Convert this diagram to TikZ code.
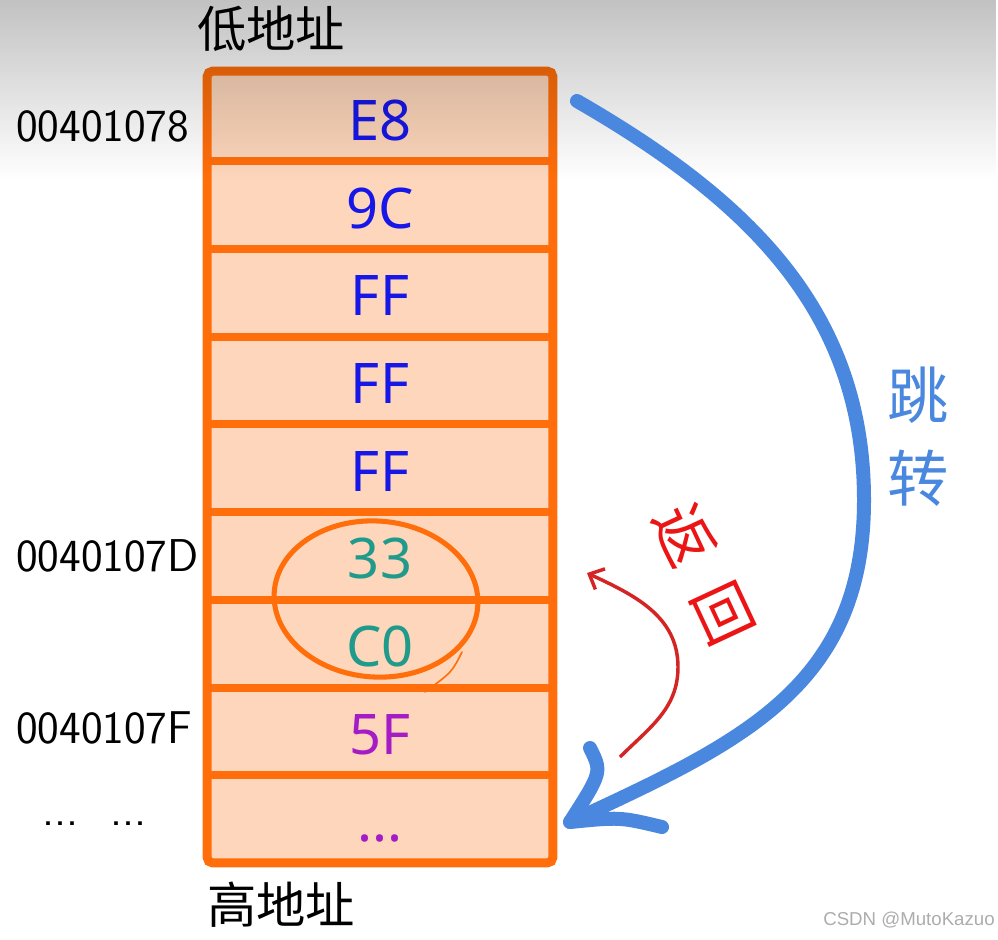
\documentclass[tikz,border=0pt]{standalone}
\usepackage{fontspec}
\newfontfamily\cjk{Noto Sans CJK SC}
\newfontfamily\hexf{Noto Sans}
\newfontfamily\wmf{Liberation Sans}
\usetikzlibrary{arrows.meta,fadings}
\definecolor{orng}{HTML}{FF6E0A}
\definecolor{peach}{HTML}{FDD6BB}
\definecolor{peachl}{HTML}{FFE2CE}
\definecolor{hexblue}{HTML}{1717E8}
\definecolor{hexteal}{HTML}{1F9A8B}
\definecolor{hexpurp}{HTML}{A51CC6}
\definecolor{jblue}{HTML}{4A87DF}
\definecolor{rred}{HTML}{D42424}
\definecolor{rtext}{HTML}{EC1515}
\tikzset{
  cell/.style={rectangle, fill=peach, draw=peachl, line width=2pt,
    minimum width=257.25pt, minimum height=65.75pt, inner sep=0pt,
    font=\hexf\fontsize{42}{42}\selectfont, text height=36pt, text depth=0pt},
  sep/.style={orng, line width=6pt},
  frame/.style={orng, line width=6.75pt, rounded corners=4pt},
  addr/.style={anchor=west, inner sep=0pt, font=\sffamily\fontsize{34.5}{34.5}\selectfont},
  cjklab/.style={inner sep=0pt, font=\cjk\fontsize{37}{37}\selectfont},
  jumplab/.style={inner sep=0pt, text=jblue, font=\cjk\fontsize{46}{46}\selectfont},
  retlab/.style={inner sep=0pt, text=rtext, rotate=-65, font=\cjk\fontsize{45}{45}\selectfont},
  jumparrow/.style={jblue, line width=10.5pt, line cap=round, line join=round},
  retarrow/.style={rred, line width=2.6pt, -{Straight Barb[length=9pt,width=17pt,line width=2.6pt]}},
}
\begin{document}
\begin{tikzpicture}[x=0.75pt,y=0.75pt]
\useasboundingbox (0,0) rectangle (998,-939);
\fill[white] (0,0) rectangle (998,-939);

% cells
\node[cell, text=hexblue] (c1) at (380,-116.3) {E8};
\node[cell, text=hexblue] (c2) at (380,-204.0) {9C};
\node[cell, text=hexblue] (c3) at (380,-291.7) {FF};
\node[cell, text=hexblue] (c4) at (380,-379.3) {FF};
\node[cell, text=hexblue] (c5) at (380,-467.0) {FF};
\node[cell, text=hexteal] (c6) at (380,-554.7) {33};
\node[cell, text=hexteal] (c7) at (380,-642.4) {C0};
\node[cell, text=hexpurp] (c8) at (380,-730.0) {5F};
\node[cell, text=hexpurp] (c9) at (380,-817.7) {...};

% separators and frame
\foreach \a/\b in {c1/c2,c2/c3,c3/c4,c4/c5,c5/c6,c6/c7,c7/c8,c8/c9}{
  \draw[sep] (\a.south west) -- (\a.south east);
}
\draw[frame] (c1.north west) rectangle (c9.south east);

% circled pair
\draw[orng, line width=3.8pt] (376,-599) ellipse [x radius=76.5pt, y radius=58.5pt, rotate=-4];
\draw[orng, line width=1.2pt, line cap=round] (462,-652) .. controls (452,-672) .. (425,-692);

% top shadow
\fill[black, path fading=south, opacity=0.24] (0,0) rectangle (998,-180);

% labels
\node[cjklab] (low) at (271,-29) {低地址};
\node[cjklab] (high) at (281,-905) {高地址};
\node[addr] (a1) at (16,-126) {00401078};
\node[addr] (a2) at (16,-556) {0040107D};
\node[addr] (a3) at (16,-728) {0040107F};
\node[addr] (a4) at (42,-824) {...\hspace{24pt}...};

% jump arrow
\coordinate (js) at (577,-101);
\coordinate (jm) at (864,-500);
\coordinate (je) at (570,-822);
\coordinate (jb1) at (590,-748);
\coordinate (jb2) at (662,-827);
\draw[jumparrow] (js) to[out=-30,in=90] (jm) to[out=-90,in=25,looseness=1.1] (je);
\draw[jumparrow] (jb1) .. controls (602,-772) .. (je) .. controls (620,-817) .. (jb2);
\node[jumplab] (j1) at (918,-395) {跳};
\node[jumplab] (j2) at (918,-478) {转};

% return arrow
\coordinate (rs) at (620,-757);
\coordinate (rm) at (678,-667);
\coordinate (re) at (587,-573);
\draw[retarrow] (rs) to[out=45,in=-90] (rm) to[out=90,in=-25] (re);
\node[retlab] (r1) at (685,-535) {返};
\node[retlab] (r2) at (723,-614) {回};

% watermark
\node[anchor=east, inner sep=0pt, text=black!32, font=\wmf\fontsize{14}{14}\selectfont] (wm) at (995,-920) {CSDN @MutoKazuo};
\end{tikzpicture}
\end{document}
